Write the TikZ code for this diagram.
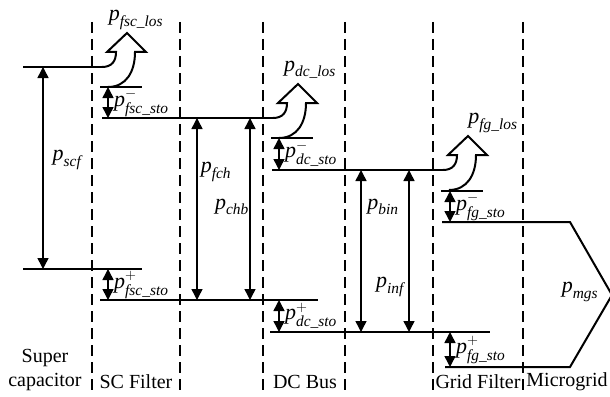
\documentclass[tikz,border=0pt]{standalone}
\usepackage{amsmath}
\usepackage{fontspec}
\setmainfont{Liberation Serif}
\usetikzlibrary{arrows.meta, calc}

\newcommand{\pv}[1]{$\textit{p}_{\textit{#1}}$}
\newcommand{\ps}[2]{$\textit{p}^{#1}_{\textit{#2}}$}
\newcommand{\lossarrow}[1]{%
  \draw[loss] (#1) .. controls ($(#1)+(10,0)$) and ($(#1)+(14,-6)$) .. ($(#1)+(14,-15)$)
    -- ($(#1)+(5,-15)$) -- ($(#1)+(25,-34)$) -- ($(#1)+(44,-15)$) -- ($(#1)+(33,-15)$)
    .. controls ($(#1)+(33,5)$) and ($(#1)+(24,20)$) .. ($(#1)+(6,20)$);}

\begin{document}
\begin{tikzpicture}[
    x=1pt, y=-1pt,
    every node/.style={inner sep=1pt},
    level/.style={line width=2pt},
    loss/.style={line width=2pt, line join=miter},
    flow/.style={line width=1.5pt, {Triangle[length=11pt,width=11pt]}-{Triangle[length=11pt,width=11pt]}},
    divider/.style={line width=1.8pt, dash pattern=on 11pt off 6pt},
    plabel/.style={font=\fontsize{22}{24}\selectfont},
    blabel/.style={font=\fontsize{20}{24}\selectfont, align=center}
]
\useasboundingbox (0,0) rectangle (610,396);

% stage borders
\foreach \x in {92,180,263,345,433,523}
  \draw[divider] (\x,22) -- (\x,394);

% power levels
\coordinate (sc1) at (23,67);   \coordinate (sc1e) at (102,67);
\coordinate (sc2) at (23,269);  \coordinate (sc2e) at (142,269);
\coordinate (fs0) at (100,87);  \coordinate (fs0e) at (142,87);
\coordinate (fs1) at (102,118); \coordinate (fs1e) at (273,118);
\coordinate (fs2) at (100,300); \coordinate (fs2e) at (318,300);
\coordinate (dc0) at (271,138); \coordinate (dc0e) at (313,138);
\coordinate (dc1) at (272,170); \coordinate (dc1e) at (443,170);
\coordinate (dc2) at (270,332); \coordinate (dc2e) at (490,332);
\coordinate (fg0) at (441,191); \coordinate (fg0e) at (483,191);
\coordinate (fg1) at (442,222); \coordinate (fg1e) at (570,222);
\coordinate (fg2) at (445,367); \coordinate (fg2e) at (570,367);
\coordinate (mgtip) at (612,295);

\foreach \a in {sc1,sc2,fs0,fs1,fs2,dc0,dc1,dc2,fg0}
  \draw[level] (\a) -- (\a e);
\draw[level] (fg1) -- (fg1e) -- (mgtip) -- (fg2e) -- (fg2);

% losses
\lossarrow{sc1e}
\lossarrow{fs1e}
\lossarrow{dc1e}

% power flows
\foreach \x/\a/\b in {43/sc1/sc2, 197/fs1/fs2, 250/fs1/fs2, 361/dc1/dc2, 409/dc1/dc2,
                      108/fs0/fs1, 108/sc2/fs2, 279/dc0/dc1, 279/fs2/dc2, 450/fg0/fg1, 450/dc2/fg2}
  \draw[flow] (\x,0 |- \a) -- (\x,0 |- \b);

% labels
\node[plabel] (lfsc) at (136,20) {\pv{fsc\_los}};
\node[plabel] (ldc) at (310,70) {\pv{dc\_los}};
\node[plabel] (lfg) at (493,123) {\pv{fg\_los}};
\node[plabel] (scf) at (67,160) {\pv{scf}};
\node[plabel] (fch) at (216,172) {\pv{fch}};
\node[plabel] (chb) at (232,207) {\pv{chb}};
\node[plabel] (bin) at (383,207) {\pv{bin}};
\node[plabel] (inf) at (390,287) {\pv{inf}};
\node[plabel] (mgs) at (580,292) {\pv{mgs}};
\node[plabel, anchor=west] (sfm) at (113,103) {\ps{-}{fsc\_sto}};
\node[plabel, anchor=west] (sfp) at (113,285) {\ps{+}{fsc\_sto}};
\node[plabel, anchor=west] (sdm) at (284,154) {\ps{-}{dc\_sto}};
\node[plabel, anchor=west] (sdp) at (284,316) {\ps{+}{dc\_sto}};
\node[plabel, anchor=west] (sgm) at (455,207) {\ps{-}{fg\_sto}};
\node[plabel, anchor=west] (sgp) at (455,350) {\ps{+}{fg\_sto}};

\node[blabel] (supcap) at (45,370) {Super\\capacitor};
\node[blabel] (scfil) at (136,382) {SC Filter};
\node[blabel] (dcbus) at (305,382) {DC Bus};
\node[blabel] (grfil) at (478,382) {Grid Filter};
\node[blabel] (mgrid) at (567,382) {Microgrid};

\end{tikzpicture}
\end{document}
